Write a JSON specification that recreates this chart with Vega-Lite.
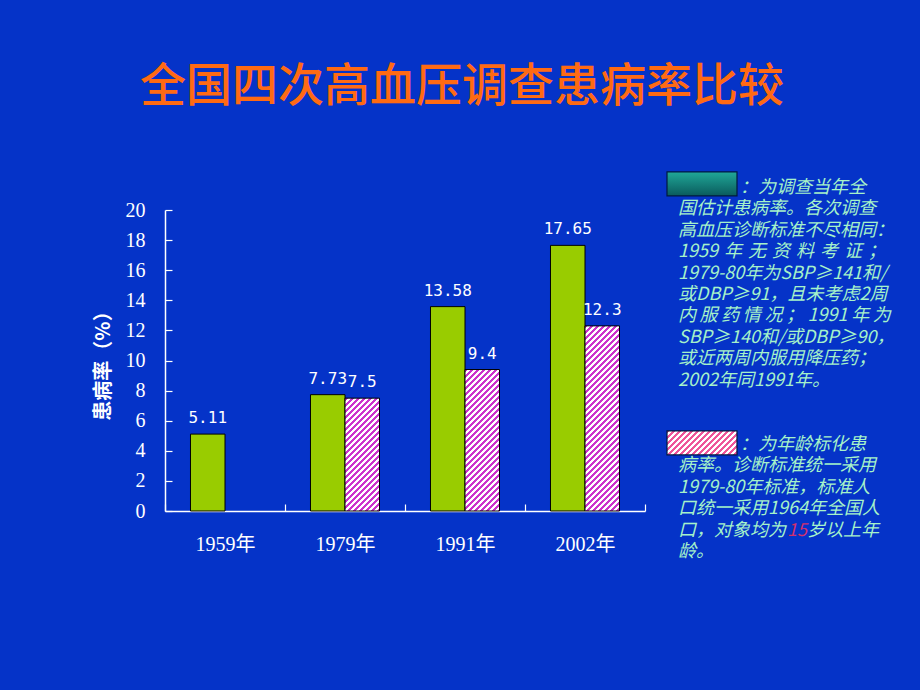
{
"$schema": "https://vega.github.io/schema/vega-lite/v6.json",
"background": "#0533c8",
"padding": {"left": 93, "top": 63, "right": 10, "bottom": 140},
"title": {"text": "全国四次高血压调查患病率比较", "font": "Noto Sans CJK SC", "fontSize": 46, "fontWeight": 500, "color": "#ff6a13", "anchor": "start", "frame": "group", "dx": -25, "offset": 59},
"spacing": 22,
"bounds": "flush",
"config": {"view": {"stroke": null}},
"hconcat": [
{
"width": 480, "height": 301,
"data": {"values": [
{"year": "1959年", "series": "估计患病率", "value": 5.11},
{"year": "1979年", "series": "估计患病率", "value": 7.73},
{"year": "1979年", "series": "标化患病率", "value": 7.5},
{"year": "1991年", "series": "估计患病率", "value": 13.58},
{"year": "1991年", "series": "标化患病率", "value": 9.4},
{"year": "2002年", "series": "估计患病率", "value": 17.65},
{"year": "2002年", "series": "标化患病率", "value": 12.3}
]},
"encoding": {
"x": {"field": "year", "type": "nominal", "scale": {"paddingInner": 0, "paddingOuter": 0}, "axis": {"title": null, "labelAngle": 0, "labelFont": "Liberation Serif, Noto Sans CJK SC", "labelFontSize": 20, "labelColor": "#ffffff", "labelPadding": 30, "domainColor": "#ffffff", "domainWidth": 1.5, "tickColor": "#ffffff", "tickWidth": 1.2, "tickSize": -7, "tickBand": "extent"}},
"xOffset": {"field": "series", "type": "nominal", "scale": {"domain": ["估计患病率", "标化患病率"], "paddingInner": 0, "paddingOuter": 0.739}},
"y": {"field": "value", "type": "quantitative", "scale": {"domain": [0, 20], "nice": false}, "axis": {"title": "患病率（%）", "titleFont": "Noto Sans CJK SC", "titleFontWeight": "bold", "titleFontSize": 20, "titleColor": "#ffffff", "titlePadding": 12, "values": [0, 2, 4, 6, 8, 10, 12, 14, 16, 18, 20], "labelFont": "Liberation Serif", "labelFontSize": 20, "labelColor": "#ffffff", "labelPadding": 27, "tickSize": -7, "tickColor": "#ffffff", "tickWidth": 1.2, "domainColor": "#ffffff", "domainWidth": 1.5, "grid": false}}
},
"layer": [
{"transform": [{"filter": "datum.series === '估计患病率'"}], "mark": {"type": "bar", "fill": "#99cc00", "stroke": "#000000", "strokeWidth": 1}},
{"transform": [{"filter": "datum.series === '标化患病率' && datum.year === '1979年'"}], "mark": {"type": "bar", "stroke": "#000000", "strokeWidth": 1, "fill": {"gradient": "linear", "x1": 0, "y1": 0, "x2": 0.5944, "y2": 1.9446, "stops": [
{"offset":0,"color":"#c3c"},{"offset":0.0125,"color":"#c3c"},{"offset":0.0125,"color":"#fff"},{"offset":0.025,"color":"#fff"},
{"offset":0.025,"color":"#c3c"},{"offset":0.0375,"color":"#c3c"},{"offset":0.0375,"color":"#fff"},{"offset":0.05,"color":"#fff"},
{"offset":0.05,"color":"#c3c"},{"offset":0.0625,"color":"#c3c"},{"offset":0.0625,"color":"#fff"},{"offset":0.075,"color":"#fff"},
{"offset":0.075,"color":"#c3c"},{"offset":0.0875,"color":"#c3c"},{"offset":0.0875,"color":"#fff"},{"offset":0.1,"color":"#fff"},
{"offset":0.1,"color":"#c3c"},{"offset":0.1125,"color":"#c3c"},{"offset":0.1125,"color":"#fff"},{"offset":0.125,"color":"#fff"},
{"offset":0.125,"color":"#c3c"},{"offset":0.1375,"color":"#c3c"},{"offset":0.1375,"color":"#fff"},{"offset":0.15,"color":"#fff"},
{"offset":0.15,"color":"#c3c"},{"offset":0.1625,"color":"#c3c"},{"offset":0.1625,"color":"#fff"},{"offset":0.175,"color":"#fff"},
{"offset":0.175,"color":"#c3c"},{"offset":0.1875,"color":"#c3c"},{"offset":0.1875,"color":"#fff"},{"offset":0.2,"color":"#fff"},
{"offset":0.2,"color":"#c3c"},{"offset":0.2125,"color":"#c3c"},{"offset":0.2125,"color":"#fff"},{"offset":0.225,"color":"#fff"},
{"offset":0.225,"color":"#c3c"},{"offset":0.2375,"color":"#c3c"},{"offset":0.2375,"color":"#fff"},{"offset":0.25,"color":"#fff"},
{"offset":0.25,"color":"#c3c"},{"offset":0.2625,"color":"#c3c"},{"offset":0.2625,"color":"#fff"},{"offset":0.275,"color":"#fff"},
{"offset":0.275,"color":"#c3c"},{"offset":0.2875,"color":"#c3c"},{"offset":0.2875,"color":"#fff"},{"offset":0.3,"color":"#fff"},
{"offset":0.3,"color":"#c3c"},{"offset":0.3125,"color":"#c3c"},{"offset":0.3125,"color":"#fff"},{"offset":0.325,"color":"#fff"},
{"offset":0.325,"color":"#c3c"},{"offset":0.3375,"color":"#c3c"},{"offset":0.3375,"color":"#fff"},{"offset":0.35,"color":"#fff"},
{"offset":0.35,"color":"#c3c"},{"offset":0.3625,"color":"#c3c"},{"offset":0.3625,"color":"#fff"},{"offset":0.375,"color":"#fff"},
{"offset":0.375,"color":"#c3c"},{"offset":0.3875,"color":"#c3c"},{"offset":0.3875,"color":"#fff"},{"offset":0.4,"color":"#fff"},
{"offset":0.4,"color":"#c3c"},{"offset":0.4125,"color":"#c3c"},{"offset":0.4125,"color":"#fff"},{"offset":0.425,"color":"#fff"},
{"offset":0.425,"color":"#c3c"},{"offset":0.4375,"color":"#c3c"},{"offset":0.4375,"color":"#fff"},{"offset":0.45,"color":"#fff"},
{"offset":0.45,"color":"#c3c"},{"offset":0.4625,"color":"#c3c"},{"offset":0.4625,"color":"#fff"},{"offset":0.475,"color":"#fff"},
{"offset":0.475,"color":"#c3c"},{"offset":0.4875,"color":"#c3c"},{"offset":0.4875,"color":"#fff"},{"offset":0.5,"color":"#fff"},
{"offset":0.5,"color":"#c3c"},{"offset":0.5125,"color":"#c3c"},{"offset":0.5125,"color":"#fff"},{"offset":0.525,"color":"#fff"},
{"offset":0.525,"color":"#c3c"},{"offset":0.5375,"color":"#c3c"},{"offset":0.5375,"color":"#fff"},{"offset":0.55,"color":"#fff"},
{"offset":0.55,"color":"#c3c"},{"offset":0.5625,"color":"#c3c"},{"offset":0.5625,"color":"#fff"},{"offset":0.575,"color":"#fff"},
{"offset":0.575,"color":"#c3c"},{"offset":0.5875,"color":"#c3c"},{"offset":0.5875,"color":"#fff"},{"offset":0.6,"color":"#fff"},
{"offset":0.6,"color":"#c3c"},{"offset":0.6125,"color":"#c3c"},{"offset":0.6125,"color":"#fff"},{"offset":0.625,"color":"#fff"}
]}}},
{"transform": [{"filter": "datum.series === '标化患病率' && datum.year === '1991年'"}], "mark": {"type": "bar", "stroke": "#000000", "strokeWidth": 1, "fill": {"gradient": "linear", "x1": 0, "y1": 0, "x2": 0.3905, "y2": 1.6012, "stops": [
{"offset":0,"color":"#c3c"},{"offset":0.0125,"color":"#c3c"},{"offset":0.0125,"color":"#fff"},{"offset":0.025,"color":"#fff"},
{"offset":0.025,"color":"#c3c"},{"offset":0.0375,"color":"#c3c"},{"offset":0.0375,"color":"#fff"},{"offset":0.05,"color":"#fff"},
{"offset":0.05,"color":"#c3c"},{"offset":0.0625,"color":"#c3c"},{"offset":0.0625,"color":"#fff"},{"offset":0.075,"color":"#fff"},
{"offset":0.075,"color":"#c3c"},{"offset":0.0875,"color":"#c3c"},{"offset":0.0875,"color":"#fff"},{"offset":0.1,"color":"#fff"},
{"offset":0.1,"color":"#c3c"},{"offset":0.1125,"color":"#c3c"},{"offset":0.1125,"color":"#fff"},{"offset":0.125,"color":"#fff"},
{"offset":0.125,"color":"#c3c"},{"offset":0.1375,"color":"#c3c"},{"offset":0.1375,"color":"#fff"},{"offset":0.15,"color":"#fff"},
{"offset":0.15,"color":"#c3c"},{"offset":0.1625,"color":"#c3c"},{"offset":0.1625,"color":"#fff"},{"offset":0.175,"color":"#fff"},
{"offset":0.175,"color":"#c3c"},{"offset":0.1875,"color":"#c3c"},{"offset":0.1875,"color":"#fff"},{"offset":0.2,"color":"#fff"},
{"offset":0.2,"color":"#c3c"},{"offset":0.2125,"color":"#c3c"},{"offset":0.2125,"color":"#fff"},{"offset":0.225,"color":"#fff"},
{"offset":0.225,"color":"#c3c"},{"offset":0.2375,"color":"#c3c"},{"offset":0.2375,"color":"#fff"},{"offset":0.25,"color":"#fff"},
{"offset":0.25,"color":"#c3c"},{"offset":0.2625,"color":"#c3c"},{"offset":0.2625,"color":"#fff"},{"offset":0.275,"color":"#fff"},
{"offset":0.275,"color":"#c3c"},{"offset":0.2875,"color":"#c3c"},{"offset":0.2875,"color":"#fff"},{"offset":0.3,"color":"#fff"},
{"offset":0.3,"color":"#c3c"},{"offset":0.3125,"color":"#c3c"},{"offset":0.3125,"color":"#fff"},{"offset":0.325,"color":"#fff"},
{"offset":0.325,"color":"#c3c"},{"offset":0.3375,"color":"#c3c"},{"offset":0.3375,"color":"#fff"},{"offset":0.35,"color":"#fff"},
{"offset":0.35,"color":"#c3c"},{"offset":0.3625,"color":"#c3c"},{"offset":0.3625,"color":"#fff"},{"offset":0.375,"color":"#fff"},
{"offset":0.375,"color":"#c3c"},{"offset":0.3875,"color":"#c3c"},{"offset":0.3875,"color":"#fff"},{"offset":0.4,"color":"#fff"},
{"offset":0.4,"color":"#c3c"},{"offset":0.4125,"color":"#c3c"},{"offset":0.4125,"color":"#fff"},{"offset":0.425,"color":"#fff"},
{"offset":0.425,"color":"#c3c"},{"offset":0.4375,"color":"#c3c"},{"offset":0.4375,"color":"#fff"},{"offset":0.45,"color":"#fff"},
{"offset":0.45,"color":"#c3c"},{"offset":0.4625,"color":"#c3c"},{"offset":0.4625,"color":"#fff"},{"offset":0.475,"color":"#fff"},
{"offset":0.475,"color":"#c3c"},{"offset":0.4875,"color":"#c3c"},{"offset":0.4875,"color":"#fff"},{"offset":0.5,"color":"#fff"},
{"offset":0.5,"color":"#c3c"},{"offset":0.5125,"color":"#c3c"},{"offset":0.5125,"color":"#fff"},{"offset":0.525,"color":"#fff"},
{"offset":0.525,"color":"#c3c"},{"offset":0.5375,"color":"#c3c"},{"offset":0.5375,"color":"#fff"},{"offset":0.55,"color":"#fff"},
{"offset":0.55,"color":"#c3c"},{"offset":0.5625,"color":"#c3c"},{"offset":0.5625,"color":"#fff"},{"offset":0.575,"color":"#fff"},
{"offset":0.575,"color":"#c3c"},{"offset":0.5875,"color":"#c3c"},{"offset":0.5875,"color":"#fff"},{"offset":0.6,"color":"#fff"},
{"offset":0.6,"color":"#c3c"},{"offset":0.6125,"color":"#c3c"},{"offset":0.6125,"color":"#fff"},{"offset":0.625,"color":"#fff"},
{"offset":0.625,"color":"#c3c"},{"offset":0.6375,"color":"#c3c"},{"offset":0.6375,"color":"#fff"},{"offset":0.65,"color":"#fff"},
{"offset":0.65,"color":"#c3c"},{"offset":0.6625,"color":"#c3c"},{"offset":0.6625,"color":"#fff"},{"offset":0.675,"color":"#fff"},
{"offset":0.675,"color":"#c3c"},{"offset":0.6875,"color":"#c3c"},{"offset":0.6875,"color":"#fff"},{"offset":0.7,"color":"#fff"},
{"offset":0.7,"color":"#c3c"},{"offset":0.7125,"color":"#c3c"},{"offset":0.7125,"color":"#fff"},{"offset":0.725,"color":"#fff"},
{"offset":0.725,"color":"#c3c"},{"offset":0.7375,"color":"#c3c"},{"offset":0.7375,"color":"#fff"},{"offset":0.75,"color":"#fff"}
]}}},
{"transform": [{"filter": "datum.series === '标化患病率' && datum.year === '2002年'"}], "mark": {"type": "bar", "stroke": "#000000", "strokeWidth": 1, "fill": {"gradient": "linear", "x1": 0, "y1": 0, "x2": 0.2335, "y2": 1.2529, "stops": [
{"offset":0,"color":"#c3c"},{"offset":0.0125,"color":"#c3c"},{"offset":0.0125,"color":"#fff"},{"offset":0.025,"color":"#fff"},
{"offset":0.025,"color":"#c3c"},{"offset":0.0375,"color":"#c3c"},{"offset":0.0375,"color":"#fff"},{"offset":0.05,"color":"#fff"},
{"offset":0.05,"color":"#c3c"},{"offset":0.0625,"color":"#c3c"},{"offset":0.0625,"color":"#fff"},{"offset":0.075,"color":"#fff"},
{"offset":0.075,"color":"#c3c"},{"offset":0.0875,"color":"#c3c"},{"offset":0.0875,"color":"#fff"},{"offset":0.1,"color":"#fff"},
{"offset":0.1,"color":"#c3c"},{"offset":0.1125,"color":"#c3c"},{"offset":0.1125,"color":"#fff"},{"offset":0.125,"color":"#fff"},
{"offset":0.125,"color":"#c3c"},{"offset":0.1375,"color":"#c3c"},{"offset":0.1375,"color":"#fff"},{"offset":0.15,"color":"#fff"},
{"offset":0.15,"color":"#c3c"},{"offset":0.1625,"color":"#c3c"},{"offset":0.1625,"color":"#fff"},{"offset":0.175,"color":"#fff"},
{"offset":0.175,"color":"#c3c"},{"offset":0.1875,"color":"#c3c"},{"offset":0.1875,"color":"#fff"},{"offset":0.2,"color":"#fff"},
{"offset":0.2,"color":"#c3c"},{"offset":0.2125,"color":"#c3c"},{"offset":0.2125,"color":"#fff"},{"offset":0.225,"color":"#fff"},
{"offset":0.225,"color":"#c3c"},{"offset":0.2375,"color":"#c3c"},{"offset":0.2375,"color":"#fff"},{"offset":0.25,"color":"#fff"},
{"offset":0.25,"color":"#c3c"},{"offset":0.2625,"color":"#c3c"},{"offset":0.2625,"color":"#fff"},{"offset":0.275,"color":"#fff"},
{"offset":0.275,"color":"#c3c"},{"offset":0.2875,"color":"#c3c"},{"offset":0.2875,"color":"#fff"},{"offset":0.3,"color":"#fff"},
{"offset":0.3,"color":"#c3c"},{"offset":0.3125,"color":"#c3c"},{"offset":0.3125,"color":"#fff"},{"offset":0.325,"color":"#fff"},
{"offset":0.325,"color":"#c3c"},{"offset":0.3375,"color":"#c3c"},{"offset":0.3375,"color":"#fff"},{"offset":0.35,"color":"#fff"},
{"offset":0.35,"color":"#c3c"},{"offset":0.3625,"color":"#c3c"},{"offset":0.3625,"color":"#fff"},{"offset":0.375,"color":"#fff"},
{"offset":0.375,"color":"#c3c"},{"offset":0.3875,"color":"#c3c"},{"offset":0.3875,"color":"#fff"},{"offset":0.4,"color":"#fff"},
{"offset":0.4,"color":"#c3c"},{"offset":0.4125,"color":"#c3c"},{"offset":0.4125,"color":"#fff"},{"offset":0.425,"color":"#fff"},
{"offset":0.425,"color":"#c3c"},{"offset":0.4375,"color":"#c3c"},{"offset":0.4375,"color":"#fff"},{"offset":0.45,"color":"#fff"},
{"offset":0.45,"color":"#c3c"},{"offset":0.4625,"color":"#c3c"},{"offset":0.4625,"color":"#fff"},{"offset":0.475,"color":"#fff"},
{"offset":0.475,"color":"#c3c"},{"offset":0.4875,"color":"#c3c"},{"offset":0.4875,"color":"#fff"},{"offset":0.5,"color":"#fff"},
{"offset":0.5,"color":"#c3c"},{"offset":0.5125,"color":"#c3c"},{"offset":0.5125,"color":"#fff"},{"offset":0.525,"color":"#fff"},
{"offset":0.525,"color":"#c3c"},{"offset":0.5375,"color":"#c3c"},{"offset":0.5375,"color":"#fff"},{"offset":0.55,"color":"#fff"},
{"offset":0.55,"color":"#c3c"},{"offset":0.5625,"color":"#c3c"},{"offset":0.5625,"color":"#fff"},{"offset":0.575,"color":"#fff"},
{"offset":0.575,"color":"#c3c"},{"offset":0.5875,"color":"#c3c"},{"offset":0.5875,"color":"#fff"},{"offset":0.6,"color":"#fff"},
{"offset":0.6,"color":"#c3c"},{"offset":0.6125,"color":"#c3c"},{"offset":0.6125,"color":"#fff"},{"offset":0.625,"color":"#fff"},
{"offset":0.625,"color":"#c3c"},{"offset":0.6375,"color":"#c3c"},{"offset":0.6375,"color":"#fff"},{"offset":0.65,"color":"#fff"},
{"offset":0.65,"color":"#c3c"},{"offset":0.6625,"color":"#c3c"},{"offset":0.6625,"color":"#fff"},{"offset":0.675,"color":"#fff"},
{"offset":0.675,"color":"#c3c"},{"offset":0.6875,"color":"#c3c"},{"offset":0.6875,"color":"#fff"},{"offset":0.7,"color":"#fff"},
{"offset":0.7,"color":"#c3c"},{"offset":0.7125,"color":"#c3c"},{"offset":0.7125,"color":"#fff"},{"offset":0.725,"color":"#fff"},
{"offset":0.725,"color":"#c3c"},{"offset":0.7375,"color":"#c3c"},{"offset":0.7375,"color":"#fff"},{"offset":0.75,"color":"#fff"},
{"offset":0.75,"color":"#c3c"},{"offset":0.7625,"color":"#c3c"},{"offset":0.7625,"color":"#fff"},{"offset":0.775,"color":"#fff"},
{"offset":0.775,"color":"#c3c"},{"offset":0.7875,"color":"#c3c"},{"offset":0.7875,"color":"#fff"},{"offset":0.8,"color":"#fff"},
{"offset":0.8,"color":"#c3c"},{"offset":0.8125,"color":"#c3c"},{"offset":0.8125,"color":"#fff"},{"offset":0.825,"color":"#fff"},
{"offset":0.825,"color":"#c3c"},{"offset":0.8375,"color":"#c3c"},{"offset":0.8375,"color":"#fff"},{"offset":0.85,"color":"#fff"},
{"offset":0.85,"color":"#c3c"},{"offset":0.8625,"color":"#c3c"},{"offset":0.8625,"color":"#fff"},{"offset":0.875,"color":"#fff"},
{"offset":0.875,"color":"#c3c"},{"offset":0.8875,"color":"#c3c"},{"offset":0.8875,"color":"#fff"},{"offset":0.9,"color":"#fff"},
{"offset":0.9,"color":"#c3c"},{"offset":0.9125,"color":"#c3c"},{"offset":0.9125,"color":"#fff"},{"offset":0.925,"color":"#fff"}
]}}},
{"mark": {"type": "text", "baseline": "middle", "dy": -16, "font": "DejaVu Sans Mono", "fontSize": 16, "color": "#ffffff"}, "encoding": {"text": {"field": "value", "type": "quantitative"}}}
]
},
{
"width": 253, "height": 342,
"data": {"values": [
{"line": 1, "part": "box", "series": "估计患病率"},
{"line": 13, "part": "box", "series": "标化患病率"},
{"line": 1, "part": "head", "text": "：为调查当年全"},
{"line": 2, "part": "body", "text": "国估计患病率。各次调查"},
{"line": 3, "part": "body", "text": "高血压诊断标准不尽相同："},
{"line": 4, "part": "body", "text": "1959\u2004年\u2004无\u2004资\u2004料\u2004考\u2004证\u2004；"},
{"line": 5, "part": "body", "text": "1979-80年为SBP≥141和/"},
{"line": 6, "part": "body", "text": "或DBP≥91，且未考虑2周"},
{"line": 7, "part": "body", "text": "内\u2009服\u2009药\u2009情\u2009况\u2009；\u20091991\u2009年\u2009为"},
{"line": 8, "part": "body", "text": "SBP≥140和/或DBP≥90，"},
{"line": 9, "part": "body", "text": "或近两周内服用降压药；"},
{"line": 10, "part": "body", "text": "2002年同1991年。"},
{"line": 13, "part": "head", "text": "：为年龄标化患"},
{"line": 14, "part": "body", "text": "病率。诊断标准统一采用"},
{"line": 15, "part": "body", "text": "1979-80年标准，标准人"},
{"line": 16, "part": "body", "text": "口统一采用1964年全国人"},
{"line": 17, "part": "body", "text": "口，对象均为"},
{"line": 17, "part": "red", "text": "15"},
{"line": 17, "part": "after", "text": "岁以上年"},
{"line": 18, "part": "body", "text": "龄。"}
]},
"encoding": {"y": {"field": "line", "type": "quantitative", "scale": {"domain": [2.03, 18], "reverse": true, "nice": false, "zero": false}, "axis": null}},
"layer": [
{"transform": [{"filter": "datum.part === 'box' && datum.series === '估计患病率'"}], "mark": {"type": "point", "shape": "M-1,-0.343L1,-0.343L1,0.343L-1,0.343Z", "size": 4900, "filled": true, "opacity": 1, "stroke": "#001a40", "strokeWidth": 1.2, "yOffset": -4, "fill": {"gradient": "linear", "x1": 0, "y1": 0, "x2": 0, "y2": 1, "stops": [{"offset": 0, "color": "#20a898"}, {"offset": 1, "color": "#0a5a5c"}]}}, "encoding": {"x": {"datum": 35, "type": "quantitative", "scale": {"domain": [0, 253], "nice": false, "zero": false}, "axis": null}}},
{"transform": [{"filter": "datum.part === 'box' && datum.series === '标化患病率'"}], "mark": {"type": "point", "shape": "M-1,-0.343L1,-0.343L1,0.343L-1,0.343Z", "size": 4900, "filled": true, "opacity": 1, "stroke": "#001a40", "strokeWidth": 1.2, "yOffset": -2, "fill": {"gradient": "linear", "x1": 0, "y1": 0, "x2": 3.068, "y2": 1.0519, "stops": [
{"offset":0,"color":"#e59"},{"offset":0.0125,"color":"#e59"},{"offset":0.0125,"color":"#fff"},{"offset":0.025,"color":"#fff"},
{"offset":0.025,"color":"#e59"},{"offset":0.0375,"color":"#e59"},{"offset":0.0375,"color":"#fff"},{"offset":0.05,"color":"#fff"},
{"offset":0.05,"color":"#e59"},{"offset":0.0625,"color":"#e59"},{"offset":0.0625,"color":"#fff"},{"offset":0.075,"color":"#fff"},
{"offset":0.075,"color":"#e59"},{"offset":0.0875,"color":"#e59"},{"offset":0.0875,"color":"#fff"},{"offset":0.1,"color":"#fff"},
{"offset":0.1,"color":"#e59"},{"offset":0.1125,"color":"#e59"},{"offset":0.1125,"color":"#fff"},{"offset":0.125,"color":"#fff"},
{"offset":0.125,"color":"#e59"},{"offset":0.1375,"color":"#e59"},{"offset":0.1375,"color":"#fff"},{"offset":0.15,"color":"#fff"},
{"offset":0.15,"color":"#e59"},{"offset":0.1625,"color":"#e59"},{"offset":0.1625,"color":"#fff"},{"offset":0.175,"color":"#fff"},
{"offset":0.175,"color":"#e59"},{"offset":0.1875,"color":"#e59"},{"offset":0.1875,"color":"#fff"},{"offset":0.2,"color":"#fff"},
{"offset":0.2,"color":"#e59"},{"offset":0.2125,"color":"#e59"},{"offset":0.2125,"color":"#fff"},{"offset":0.225,"color":"#fff"},
{"offset":0.225,"color":"#e59"},{"offset":0.2375,"color":"#e59"},{"offset":0.2375,"color":"#fff"},{"offset":0.25,"color":"#fff"},
{"offset":0.25,"color":"#e59"},{"offset":0.2625,"color":"#e59"},{"offset":0.2625,"color":"#fff"},{"offset":0.275,"color":"#fff"},
{"offset":0.275,"color":"#e59"},{"offset":0.2875,"color":"#e59"},{"offset":0.2875,"color":"#fff"},{"offset":0.3,"color":"#fff"},
{"offset":0.3,"color":"#e59"},{"offset":0.3125,"color":"#e59"},{"offset":0.3125,"color":"#fff"},{"offset":0.325,"color":"#fff"},
{"offset":0.325,"color":"#e59"},{"offset":0.3375,"color":"#e59"},{"offset":0.3375,"color":"#fff"},{"offset":0.35,"color":"#fff"},
{"offset":0.35,"color":"#e59"},{"offset":0.3625,"color":"#e59"},{"offset":0.3625,"color":"#fff"},{"offset":0.375,"color":"#fff"},
{"offset":0.375,"color":"#e59"},{"offset":0.3875,"color":"#e59"},{"offset":0.3875,"color":"#fff"},{"offset":0.4,"color":"#fff"}
]}}, "encoding": {"x": {"datum": 35, "type": "quantitative", "scale": {"domain": [0, 253], "nice": false, "zero": false}, "axis": null}}},
{"transform": [{"filter": "datum.part === 'head'"}], "mark": {"type": "text", "align": "left", "baseline": "middle", "font": "Noto Sans CJK SC", "fontSize": 18, "fontStyle": "italic", "color": "#a6f2c9"}, "encoding": {"x": {"datum": 73, "type": "quantitative", "scale": {"domain": [0, 253], "nice": false, "zero": false}, "axis": null}, "text": {"field": "text"}}},
{"transform": [{"filter": "datum.part === 'body'"}], "mark": {"type": "text", "align": "left", "baseline": "middle", "font": "Noto Sans CJK SC", "fontSize": 18, "fontStyle": "italic", "color": "#a6f2c9"}, "encoding": {"x": {"datum": 11, "type": "quantitative", "scale": {"domain": [0, 253], "nice": false, "zero": false}, "axis": null}, "text": {"field": "text"}}},
{"transform": [{"filter": "datum.part === 'red'"}], "mark": {"type": "text", "align": "left", "baseline": "middle", "font": "Noto Sans CJK SC", "fontSize": 18, "fontStyle": "italic", "color": "#d0306e"}, "encoding": {"x": {"datum": 120, "type": "quantitative", "scale": {"domain": [0, 253], "nice": false, "zero": false}, "axis": null}, "text": {"field": "text"}}},
{"transform": [{"filter": "datum.part === 'after'"}], "mark": {"type": "text", "align": "left", "baseline": "middle", "font": "Noto Sans CJK SC", "fontSize": 18, "fontStyle": "italic", "color": "#a6f2c9"}, "encoding": {"x": {"datum": 140, "type": "quantitative", "scale": {"domain": [0, 253], "nice": false, "zero": false}, "axis": null}, "text": {"field": "text"}}}
]
}
]
}
